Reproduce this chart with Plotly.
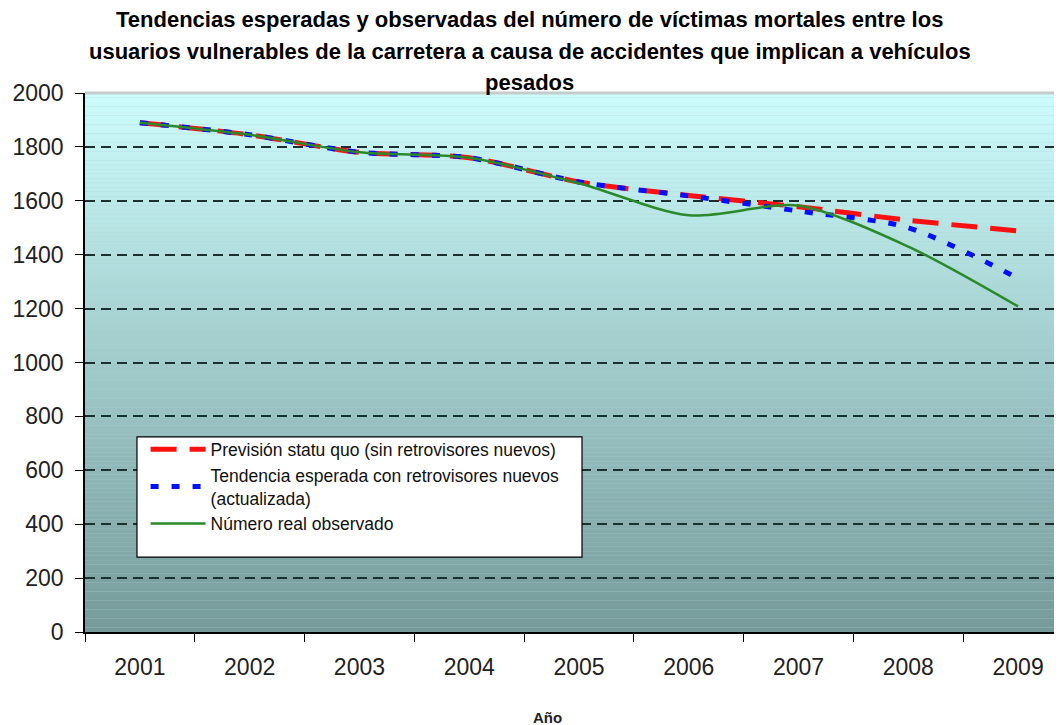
import numpy as np
import plotly.graph_objects as go

# 연도별 값
years = [2001, 2002, 2003, 2004, 2005, 2006, 2007, 2008, 2009]
statu_quo = [1890, 1845, 1780, 1760, 1670, 1620, 1578, 1528, 1488]
con_retrovisores = [1890, 1845, 1780, 1760, 1670, 1618, 1562, 1500, 1312]
observado = [1890, 1845, 1780, 1760, 1665, 1546, 1582, 1430, 1208]

names = ["Previsión statu quo (sin retrovisores nuevos)",
         "Tendencia esperada con retrovisores nuevos<br>(actualizada)",
         "Número real observado"]
title_lines = ["Tendencias esperadas y observadas del número de víctimas mortales entre los",
               "usuarios vulnerables de la carretera a causa de accidentes que implican a vehículos",
               "pesados"]

FONT = "Liberation Sans, Arial, sans-serif"

fig = go.Figure()
fig.add_trace(go.Scatter(x=years, y=statu_quo, name=names[0], mode="lines",
                         line=dict(color="#ff1010", width=5, dash="26px,13px",
                                   shape="spline", smoothing=0.8)))
fig.add_trace(go.Scatter(x=years, y=con_retrovisores, name=names[1], mode="lines",
                         line=dict(color="#0010ff", width=5, dash="8px,13px",
                                   shape="spline", smoothing=0.8)))
fig.add_trace(go.Scatter(x=years, y=observado, name=names[2], mode="lines",
                         line=dict(color="#2a8a2a", width=2.5,
                                   shape="spline", smoothing=0.8)))

# 배경 그라데이션 (격자선 아래 레이어에 얇은 띠를 쌓음)
top = np.array([0xcd, 0xfc, 0xfc])
bot = np.array([0x76, 0x9a, 0x9a])
n = 120
shapes = []
for i in range(n):
    t = (i + 0.5) / n
    c = bot + (top - bot) * t
    shapes.append(dict(type="rect", xref="x domain", yref="y domain",
                       x0=0, x1=1, y0=i / n, y1=(i + 1) / n, layer="below",
                       line=dict(width=0),
                       fillcolor=f"rgb({c[0]:.0f},{c[1]:.0f},{c[2]:.0f})"))
# 상단 테두리 (연회색)
shapes.append(dict(type="line", xref="x domain", yref="y domain", x0=0, x1=1,
                   y0=1, y1=1, line=dict(color="#c4cccc", width=3)))
# 범례 상자
shapes.append(dict(type="rect", xref="paper", yref="paper",
                   x0=0.0532, x1=0.5087, y0=0.139, y1=0.362,
                   fillcolor="white", line=dict(color="black", width=1.2)))

annotations = []
for ln, yy in zip(title_lines, [1.1355, 1.0779, 1.0204]):
    annotations.append(dict(text=f"<b>{ln}</b>", xref="paper", yref="paper",
                            x=0.4554, y=yy, showarrow=False, xanchor="center",
                            yanchor="middle",
                            font=dict(family=FONT, size=22, color="black")))
annotations.append(dict(text="<b>Año</b>", xref="paper", yref="paper", x=0.473,
                        y=-0.158, showarrow=False, yanchor="middle",
                        font=dict(family=FONT, size=15, color="#222")))

fig.update_layout(
    # 페이지 body 여백(8px)을 빼고 맞춤
    width=1054, height=717,
    margin=dict(l=77, r=0, t=85, b=93),
    paper_bgcolor="white", plot_bgcolor="#a8d4d4",
    font=dict(family=FONT, color="#222"),
    shapes=shapes, annotations=annotations,
    showlegend=True,
    legend=dict(x=0.062, y=0.372, xanchor="left", yanchor="top",
                bgcolor="rgba(0,0,0,0)", borderwidth=0, itemwidth=55,
                font=dict(family=FONT, size=17.5, color="#111"),
                tracegroupgap=0),
    xaxis=dict(range=[2000.5, 2009.4], tickvals=years,
               ticktext=[str(y) for y in years], ticks="",
               ticklabelstandoff=14,
               tickfont=dict(size=23, color="#222"),
               minor=dict(tickvals=[y - 0.5 for y in years] + [years[-1] + 0.5],
                          ticks="outside", ticklen=8, tickcolor="black",
                          tickwidth=1.2, showgrid=False),
               showgrid=False, zeroline=False,
               showline=True, linecolor="black", linewidth=1.5),
    yaxis=dict(range=[0, 2000], dtick=200, tick0=0, ticks="outside", ticklen=8,
               tickcolor="black", tickwidth=1.2, ticklabelstandoff=7,
               tickfont=dict(size=23, color="#222"),
               showgrid=True, gridcolor="#1e2e2e", gridwidth=1.5,
               griddash="10px,6px", zeroline=False,
               showline=True, linecolor="black", linewidth=1.5),
)

fig.write_html("out.html")
